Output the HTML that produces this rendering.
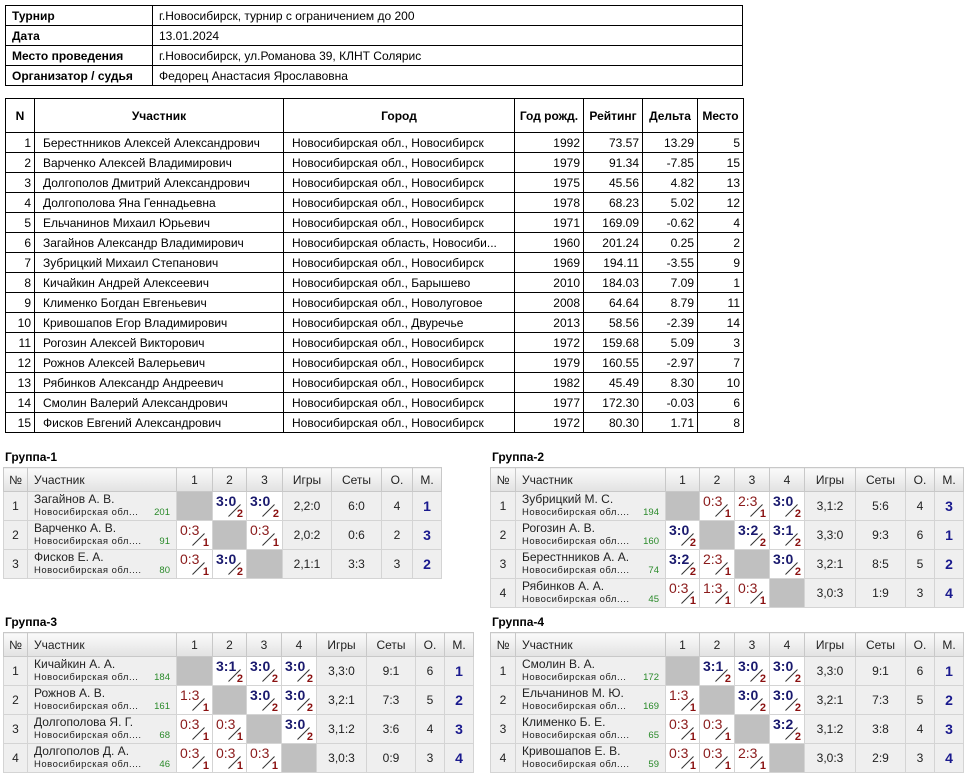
<!DOCTYPE html>
<html><head><meta charset="utf-8">
<style>
body{margin:0;width:974px;height:782px;background:#fff;position:relative;font-family:"Liberation Sans",sans-serif;overflow:hidden}
table{border-collapse:collapse;position:absolute;table-layout:fixed}
.info{left:5px;top:5px;width:738px;font-size:12px}
.info td{border:1px solid #000;height:19px;padding:0 0 0 6px}
.info td.k{font-weight:bold;width:140px}
.main{left:5px;top:98px;width:738px;font-size:12px}
.main td{border:1px solid #000;height:19px;padding:0 3px 0 8px;white-space:nowrap;overflow:hidden}
.main th{border:1px solid #000;height:31px;font-size:12px}
.main td.n{text-align:right;padding:0 3px 0 2px}
.gt{position:absolute;font-size:12px;font-weight:bold}
.g{font-size:12px;color:#222;border:1px solid #c8c8c8}
.g th{font-weight:normal;height:21px;background:linear-gradient(#fafafa,#e2e2e2);border:1px solid #c8c8c8;text-align:center}
.g th.l{text-align:left;padding-left:6px}
.g td{height:28px;background:#efefef;border:1px solid #d4d4d4;text-align:center;padding:0;position:relative}
.g td.p{text-align:left;padding-left:6px;line-height:14px}
.g td.p small{display:block;font-size:9.5px;letter-spacing:.5px;position:relative}
.g td.p small em{font-style:normal;color:#2a8a2a;position:absolute;right:6px;letter-spacing:0}
.g td.x{background:#c0c0c0}
.g td.r{background:#fff}
.g td.r b,.g td.r u{position:absolute;left:3px;top:1px;font-size:14px;text-decoration:none}
.g td.r b{color:#1a1a6e}
.g td.r u{color:#8a1a1a}
.g td.r i{position:absolute;left:13px;top:18px;width:17px;height:1px;background:#333;transform:rotate(-45deg);transform-origin:center}
.g td.r s{position:absolute;right:3px;bottom:0;font-size:11px;font-weight:bold;color:#8a1010;text-decoration:none}
.g td.m{font-weight:bold;color:#1a1a8e;font-size:14px}
</style></head><body>
<table class="info">
<tr><td class="k">Турнир</td><td>г.Новосибирск, турнир с ограничением до 200</td></tr>
<tr><td class="k">Дата</td><td>13.01.2024</td></tr>
<tr><td class="k">Место проведения</td><td>г.Новосибирск, ул.Романова 39, КЛНТ Солярис</td></tr>
<tr><td class="k">Организатор / судья</td><td>Федорец Анастасия Ярославовна</td></tr>
</table>
<table class="main">
<colgroup><col style="width:29px"><col style="width:249px"><col style="width:231px"><col style="width:69px"><col style="width:59px"><col style="width:55px"><col style="width:46px"></colgroup>
<tr><th>N</th><th>Участник</th><th>Город</th><th>Год рожд.</th><th>Рейтинг</th><th>Дельта</th><th>Место</th></tr>
<tr><td class="n">1</td><td>Берестнников Алексей Александрович</td><td>Новосибирская обл., Новосибирск</td><td class="n">1992</td><td class="n">73.57</td><td class="n">13.29</td><td class="n">5</td></tr>
<tr><td class="n">2</td><td>Варченко Алексей Владимирович</td><td>Новосибирская обл., Новосибирск</td><td class="n">1979</td><td class="n">91.34</td><td class="n">-7.85</td><td class="n">15</td></tr>
<tr><td class="n">3</td><td>Долгополов Дмитрий Александрович</td><td>Новосибирская обл., Новосибирск</td><td class="n">1975</td><td class="n">45.56</td><td class="n">4.82</td><td class="n">13</td></tr>
<tr><td class="n">4</td><td>Долгополова Яна Геннадьевна</td><td>Новосибирская обл., Новосибирск</td><td class="n">1978</td><td class="n">68.23</td><td class="n">5.02</td><td class="n">12</td></tr>
<tr><td class="n">5</td><td>Ельчанинов Михаил Юрьевич</td><td>Новосибирская обл., Новосибирск</td><td class="n">1971</td><td class="n">169.09</td><td class="n">-0.62</td><td class="n">4</td></tr>
<tr><td class="n">6</td><td>Загайнов Александр Владимирович</td><td>Новосибирская область, Новосиби...</td><td class="n">1960</td><td class="n">201.24</td><td class="n">0.25</td><td class="n">2</td></tr>
<tr><td class="n">7</td><td>Зубрицкий Михаил Степанович</td><td>Новосибирская обл., Новосибирск</td><td class="n">1969</td><td class="n">194.11</td><td class="n">-3.55</td><td class="n">9</td></tr>
<tr><td class="n">8</td><td>Кичайкин Андрей Алексеевич</td><td>Новосибирская обл., Барышево</td><td class="n">2010</td><td class="n">184.03</td><td class="n">7.09</td><td class="n">1</td></tr>
<tr><td class="n">9</td><td>Клименко Богдан Евгеньевич</td><td>Новосибирская обл., Новолуговое</td><td class="n">2008</td><td class="n">64.64</td><td class="n">8.79</td><td class="n">11</td></tr>
<tr><td class="n">10</td><td>Кривошапов Егор Владимирович</td><td>Новосибирская обл., Двуречье</td><td class="n">2013</td><td class="n">58.56</td><td class="n">-2.39</td><td class="n">14</td></tr>
<tr><td class="n">11</td><td>Рогозин Алексей Викторович</td><td>Новосибирская обл., Новосибирск</td><td class="n">1972</td><td class="n">159.68</td><td class="n">5.09</td><td class="n">3</td></tr>
<tr><td class="n">12</td><td>Рожнов Алексей Валерьевич</td><td>Новосибирская обл., Новосибирск</td><td class="n">1979</td><td class="n">160.55</td><td class="n">-2.97</td><td class="n">7</td></tr>
<tr><td class="n">13</td><td>Рябинков Александр Андреевич</td><td>Новосибирская обл., Новосибирск</td><td class="n">1982</td><td class="n">45.49</td><td class="n">8.30</td><td class="n">10</td></tr>
<tr><td class="n">14</td><td>Смолин Валерий Александрович</td><td>Новосибирская обл., Новосибирск</td><td class="n">1977</td><td class="n">172.30</td><td class="n">-0.03</td><td class="n">6</td></tr>
<tr><td class="n">15</td><td>Фисков Евгений Александрович</td><td>Новосибирская обл., Новосибирск</td><td class="n">1972</td><td class="n">80.30</td><td class="n">1.71</td><td class="n">8</td></tr>
</table>

<div class="gt" style="left:5px;top:450px">Группа-1</div>
<table class="g" style="left:3px;top:467px;width:439px">
<colgroup><col style="width:24px"><col style="width:149px"><col style="width:36px"><col style="width:34px"><col style="width:36px"><col style="width:49px"><col style="width:50px"><col style="width:31px"><col style="width:29px"></colgroup>
<tr><th>№</th><th class="l">Участник</th><th>1</th><th>2</th><th>3</th><th>Игры</th><th>Сеты</th><th>О.</th><th>М.</th></tr>
<tr><td>1</td><td class="p">Загайнов А. В.<small>Новосибирская обл...<em>201</em></small></td><td class="x"></td><td class="r"><b>3:0</b><i></i><s>2</s></td><td class="r"><b>3:0</b><i></i><s>2</s></td><td>2,2:0</td><td>6:0</td><td>4</td><td class="m">1</td></tr>
<tr><td>2</td><td class="p">Варченко А. В.<small>Новосибирская обл....<em>91</em></small></td><td class="r"><u>0:3</u><i></i><s>1</s></td><td class="x"></td><td class="r"><u>0:3</u><i></i><s>1</s></td><td>2,0:2</td><td>0:6</td><td>2</td><td class="m">3</td></tr>
<tr><td>3</td><td class="p">Фисков Е. А.<small>Новосибирская обл....<em>80</em></small></td><td class="r"><u>0:3</u><i></i><s>1</s></td><td class="r"><b>3:0</b><i></i><s>2</s></td><td class="x"></td><td>2,1:1</td><td>3:3</td><td>3</td><td class="m">2</td></tr>
</table>

<div class="gt" style="left:492px;top:450px">Группа-2</div>
<table class="g" style="left:490px;top:467px;width:474px">
<colgroup><col style="width:25px"><col style="width:150px"><col style="width:34px"><col style="width:35px"><col style="width:35px"><col style="width:35px"><col style="width:51px"><col style="width:50px"><col style="width:29px"><col style="width:29px"></colgroup>
<tr><th>№</th><th class="l">Участник</th><th>1</th><th>2</th><th>3</th><th>4</th><th>Игры</th><th>Сеты</th><th>О.</th><th>М.</th></tr>
<tr><td>1</td><td class="p">Зубрицкий М. С.<small>Новосибирская обл....<em>194</em></small></td><td class="x"></td><td class="r"><u>0:3</u><i></i><s>1</s></td><td class="r"><u>2:3</u><i></i><s>1</s></td><td class="r"><b>3:0</b><i></i><s>2</s></td><td>3,1:2</td><td>5:6</td><td>4</td><td class="m">3</td></tr>
<tr><td>2</td><td class="p">Рогозин А. В.<small>Новосибирская обл....<em>160</em></small></td><td class="r"><b>3:0</b><i></i><s>2</s></td><td class="x"></td><td class="r"><b>3:2</b><i></i><s>2</s></td><td class="r"><b>3:1</b><i></i><s>2</s></td><td>3,3:0</td><td>9:3</td><td>6</td><td class="m">1</td></tr>
<tr><td>3</td><td class="p">Берестнников А. А.<small>Новосибирская обл....<em>74</em></small></td><td class="r"><b>3:2</b><i></i><s>2</s></td><td class="r"><u>2:3</u><i></i><s>1</s></td><td class="x"></td><td class="r"><b>3:0</b><i></i><s>2</s></td><td>3,2:1</td><td>8:5</td><td>5</td><td class="m">2</td></tr>
<tr><td>4</td><td class="p">Рябинков А. А.<small>Новосибирская обл....<em>45</em></small></td><td class="r"><u>0:3</u><i></i><s>1</s></td><td class="r"><u>1:3</u><i></i><s>1</s></td><td class="r"><u>0:3</u><i></i><s>1</s></td><td class="x"></td><td>3,0:3</td><td>1:9</td><td>3</td><td class="m">4</td></tr>
</table>

<div class="gt" style="left:5px;top:615px">Группа-3</div>
<table class="g" style="left:3px;top:632px;width:471px">
<colgroup><col style="width:24px"><col style="width:149px"><col style="width:36px"><col style="width:34px"><col style="width:35px"><col style="width:35px"><col style="width:50px"><col style="width:49px"><col style="width:29px"><col style="width:29px"></colgroup>
<tr><th>№</th><th class="l">Участник</th><th>1</th><th>2</th><th>3</th><th>4</th><th>Игры</th><th>Сеты</th><th>О.</th><th>М.</th></tr>
<tr><td>1</td><td class="p">Кичайкин А. А.<small>Новосибирская обл...<em>184</em></small></td><td class="x"></td><td class="r"><b>3:1</b><i></i><s>2</s></td><td class="r"><b>3:0</b><i></i><s>2</s></td><td class="r"><b>3:0</b><i></i><s>2</s></td><td>3,3:0</td><td>9:1</td><td>6</td><td class="m">1</td></tr>
<tr><td>2</td><td class="p">Рожнов А. В.<small>Новосибирская обл...<em>161</em></small></td><td class="r"><u>1:3</u><i></i><s>1</s></td><td class="x"></td><td class="r"><b>3:0</b><i></i><s>2</s></td><td class="r"><b>3:0</b><i></i><s>2</s></td><td>3,2:1</td><td>7:3</td><td>5</td><td class="m">2</td></tr>
<tr><td>3</td><td class="p">Долгополова Я. Г.<small>Новосибирская обл....<em>68</em></small></td><td class="r"><u>0:3</u><i></i><s>1</s></td><td class="r"><u>0:3</u><i></i><s>1</s></td><td class="x"></td><td class="r"><b>3:0</b><i></i><s>2</s></td><td>3,1:2</td><td>3:6</td><td>4</td><td class="m">3</td></tr>
<tr><td>4</td><td class="p">Долгополов Д. А.<small>Новосибирская обл....<em>46</em></small></td><td class="r"><u>0:3</u><i></i><s>1</s></td><td class="r"><u>0:3</u><i></i><s>1</s></td><td class="r"><u>0:3</u><i></i><s>1</s></td><td class="x"></td><td>3,0:3</td><td>0:9</td><td>3</td><td class="m">4</td></tr>
</table>

<div class="gt" style="left:492px;top:615px">Группа-4</div>
<table class="g" style="left:490px;top:632px;width:474px">
<colgroup><col style="width:25px"><col style="width:150px"><col style="width:34px"><col style="width:35px"><col style="width:35px"><col style="width:35px"><col style="width:51px"><col style="width:50px"><col style="width:29px"><col style="width:29px"></colgroup>
<tr><th>№</th><th class="l">Участник</th><th>1</th><th>2</th><th>3</th><th>4</th><th>Игры</th><th>Сеты</th><th>О.</th><th>М.</th></tr>
<tr><td>1</td><td class="p">Смолин В. А.<small>Новосибирская обл...<em>172</em></small></td><td class="x"></td><td class="r"><b>3:1</b><i></i><s>2</s></td><td class="r"><b>3:0</b><i></i><s>2</s></td><td class="r"><b>3:0</b><i></i><s>2</s></td><td>3,3:0</td><td>9:1</td><td>6</td><td class="m">1</td></tr>
<tr><td>2</td><td class="p">Ельчанинов М. Ю.<small>Новосибирская обл...<em>169</em></small></td><td class="r"><u>1:3</u><i></i><s>1</s></td><td class="x"></td><td class="r"><b>3:0</b><i></i><s>2</s></td><td class="r"><b>3:0</b><i></i><s>2</s></td><td>3,2:1</td><td>7:3</td><td>5</td><td class="m">2</td></tr>
<tr><td>3</td><td class="p">Клименко Б. Е.<small>Новосибирская обл....<em>65</em></small></td><td class="r"><u>0:3</u><i></i><s>1</s></td><td class="r"><u>0:3</u><i></i><s>1</s></td><td class="x"></td><td class="r"><b>3:2</b><i></i><s>2</s></td><td>3,1:2</td><td>3:8</td><td>4</td><td class="m">3</td></tr>
<tr><td>4</td><td class="p">Кривошапов Е. В.<small>Новосибирская обл....<em>59</em></small></td><td class="r"><u>0:3</u><i></i><s>1</s></td><td class="r"><u>0:3</u><i></i><s>1</s></td><td class="r"><u>2:3</u><i></i><s>1</s></td><td class="x"></td><td>3,0:3</td><td>2:9</td><td>3</td><td class="m">4</td></tr>
</table>
</body></html>
